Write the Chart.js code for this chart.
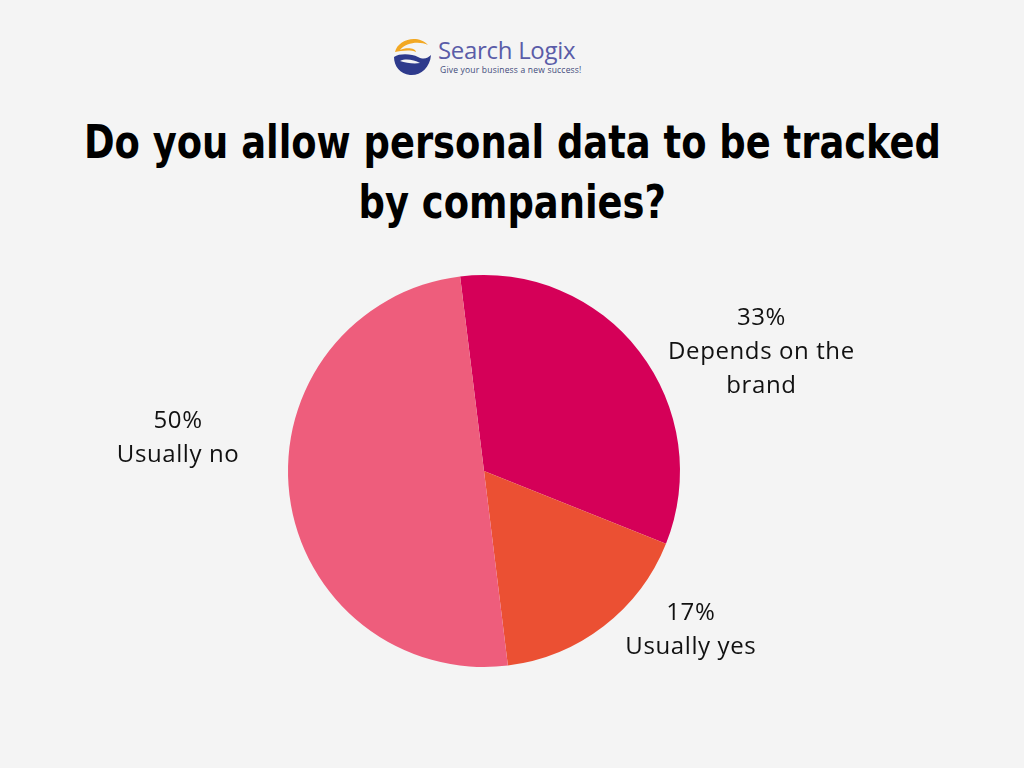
<!DOCTYPE html>
<html>
<head>
<meta charset="utf-8">
<script src="https://cdn.jsdelivr.net/npm/chart.js@4.4.1/dist/chart.umd.min.js"></script>
<style>
  html, body { margin: 0; padding: 0; background: #f4f4f4; }
  #wrap { position: relative; width: 1024px; height: 768px; overflow: hidden; }
  #pieChart { position: absolute; left: 0; top: 0; }
  #logo { position: absolute; left: 392px; top: 35px; height: 42px; }
  #logo svg { position: absolute; left: 0; top: 0; }
  #logo .name { position: absolute; left: 46px; top: -2px; font: 24px "Open Sans", sans-serif; color: #5a5ca8; white-space: nowrap; letter-spacing: -0.3px; }
  #logo .tag { position: absolute; left: 48px; top: 29px; font: 8.5px "Open Sans", sans-serif; color: #3f4a7a; white-space: nowrap; letter-spacing: 0.2px; }
  #title { position: absolute; left: 0; width: 1024px; top: 112px; text-align: center;
           font: bold 47px "DejaVu Sans", sans-serif; font-stretch: condensed; color: #000; line-height: 60px; }
  #title span { display: inline-block; transform-origin: center; white-space: nowrap; }
</style>
</head>
<body>
<div id="wrap">
  <div id="logo">
    <svg width="40" height="42" viewBox="0 0 40 42">
      <circle cx="20" cy="21" r="19" fill="#f4f4f4"/>
      <path d="M3 17 C6 4 26 -1 36 10 C28 6 14 7 8 15 C14 12 24 13 24 17 C18 14 8 16 3 17 Z" fill="#f2a823"/>
      <path d="M2 22 C8 18 20 19 26 22 C32 25 36 23 39 20 C38 33 28 41 18 40 C8 39 2 31 2 22 Z" fill="#2e3a8c"/>
      <path d="M8 26 C14 23 22 25 28 28 C22 29 14 28 8 26 Z" fill="#f4f4f4"/>
    </svg>
    <div class="name">Search Logix</div>
    <div class="tag">Give your business a new success!</div>
  </div>
  <div id="title"><span id="t1">Do you allow personal data to be tracked</span><br><span id="t2">by companies?</span></div>
  <canvas id="pieChart" width="1024" height="768"></canvas>
</div>
<script>
// --- データ ---
const answerLabels = ['Depends on the brand', 'Usually yes', 'Usually no'];
const answerShares = [33, 17, 50];
const answerColors = ['#d50058', '#eb5033', '#ee5d7c'];
// ラベル文字列（改行込み）
const labelLines = [['33%', 'Depends on the', 'brand'], ['17%', 'Usually yes'], ['50%', 'Usually no']];

// --- タイトル幅を参照画像に合わせる ---
const t1 = document.getElementById('t1');
const t2 = document.getElementById('t2');
const scaleX = 857 / t1.getBoundingClientRect().width;
t1.style.transform = `scaleX(${scaleX})`;
t2.style.transform = `scaleX(${scaleX})`;

// --- ラベル配置（円の中心からの角度と半径比） ---
const labelPlacement = [
    { angle: 66.8, dist: 1.54 },
    { angle: 127.5, dist: 1.33 },
    { angle: 276.2, dist: 1.57 }
];

const outsideLabels = {
    id: 'outsideLabels',
    afterDatasetsDraw(chart) {
        const { ctx } = chart;
        const meta = chart.getDatasetMeta(0);
        ctx.save();
        ctx.fillStyle = '#111';
        ctx.font = '24px "Open Sans", sans-serif';
        ctx.letterSpacing = '0.6px';
        ctx.textAlign = 'center';
        ctx.textBaseline = 'middle';
        const lineH = 34;
        meta.data.forEach((arc, i) => {
            const p = labelPlacement[i];
            const a = p.angle * Math.PI / 180;
            const cx = arc.x + Math.sin(a) * arc.outerRadius * p.dist;
            const cy = arc.y - Math.cos(a) * arc.outerRadius * p.dist;
            const lines = labelLines[i];
            const startY = cy - (lines.length - 1) * lineH / 2;
            lines.forEach((t, j) => ctx.fillText(t, cx, startY + j * lineH));
        });
        ctx.restore();
    }
};

new Chart(document.getElementById('pieChart'), {
    type: 'pie',
    data: {
        labels: answerLabels,
        datasets: [{ data: answerShares, backgroundColor: answerColors, borderWidth: 0 }]
    },
    options: {
        responsive: false,
        animation: false,
        rotation: -7,
        layout: { padding: { left: 288, right: 344, top: 275, bottom: 101 } },
        plugins: { legend: { display: false }, tooltip: { enabled: false } }
    },
    plugins: [outsideLabels]
});
</script>
</body>
</html>
